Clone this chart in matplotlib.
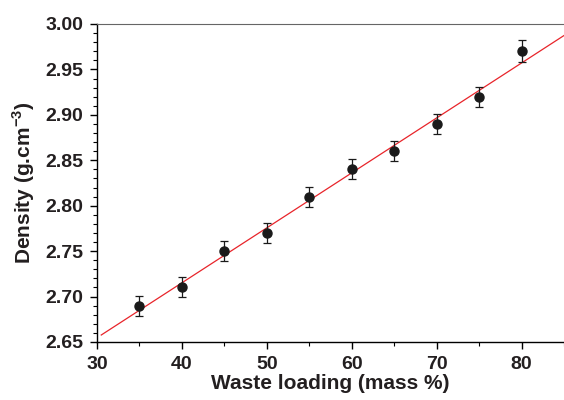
import numpy as np
import matplotlib.pyplot as plt
from matplotlib.ticker import MultipleLocator

plt.rcParams['font.family'] = ['Liberation Sans', 'DejaVu Sans']
plt.rcParams['mathtext.fontset'] = 'custom'
plt.rcParams['mathtext.bf'] = 'Liberation Sans:bold'
plt.rcParams['mathtext.rm'] = 'Liberation Sans:bold'

waste_loading = [35, 40, 45, 50, 55, 60, 65, 70, 75, 80]
density = [2.69, 2.71, 2.75, 2.77, 2.81, 2.84, 2.86, 2.89, 2.92, 2.97]
density_err = [0.011, 0.011, 0.011, 0.011, 0.011, 0.011, 0.011, 0.011, 0.011, 0.012]

fig = plt.figure(figsize=(5.64, 4.0), dpi=100)
ax = fig.add_axes([97 / 564, 58 / 400, 467 / 564, 318 / 400])

# linear fit
k, b = np.polyfit(waste_loading, density, 1)
xfit = np.array([30.5, 85])
ax.plot(xfit, k * xfit + b, color='#e8242a', lw=0.9, zorder=2)

ax.errorbar(waste_loading, density, yerr=density_err, fmt='o', color='#1a1a1a',
            ms=6.5, ecolor='#1a1a1a', elinewidth=0.9, capsize=3, capthick=0.9, zorder=3)

ax.set_xlim(30, 85)
ax.set_ylim(2.65, 3.00)
ax.xaxis.set_major_locator(MultipleLocator(10))
ax.xaxis.set_minor_locator(MultipleLocator(5))
ax.yaxis.set_major_locator(MultipleLocator(0.05))
ax.yaxis.set_minor_locator(MultipleLocator(0.01))
ax.yaxis.set_major_formatter(plt.FormatStrFormatter('%.2f'))

ax.spines['right'].set_visible(False)
ax.spines['top'].set_color('#666666')
for s in ['left', 'bottom']:
    ax.spines[s].set_linewidth(1.0)
ax.tick_params(which='major', direction='out', length=5, width=1, labelsize=14, pad=5)
ax.tick_params(which='minor', direction='out', length=3, width=0.8)
for lab in ax.get_xticklabels() + ax.get_yticklabels():
    lab.set_fontweight('bold')
    lab.set_color('#231f20')

ax.set_xlabel('Waste loading (mass %)', fontsize=15, fontweight='bold', labelpad=1, color='#231f20')
ax.set_ylabel(r'Density (g.cm$^{-3}$)', fontsize=15, fontweight='bold', labelpad=6, color='#231f20')

fig.savefig('out.png', dpi=100)
